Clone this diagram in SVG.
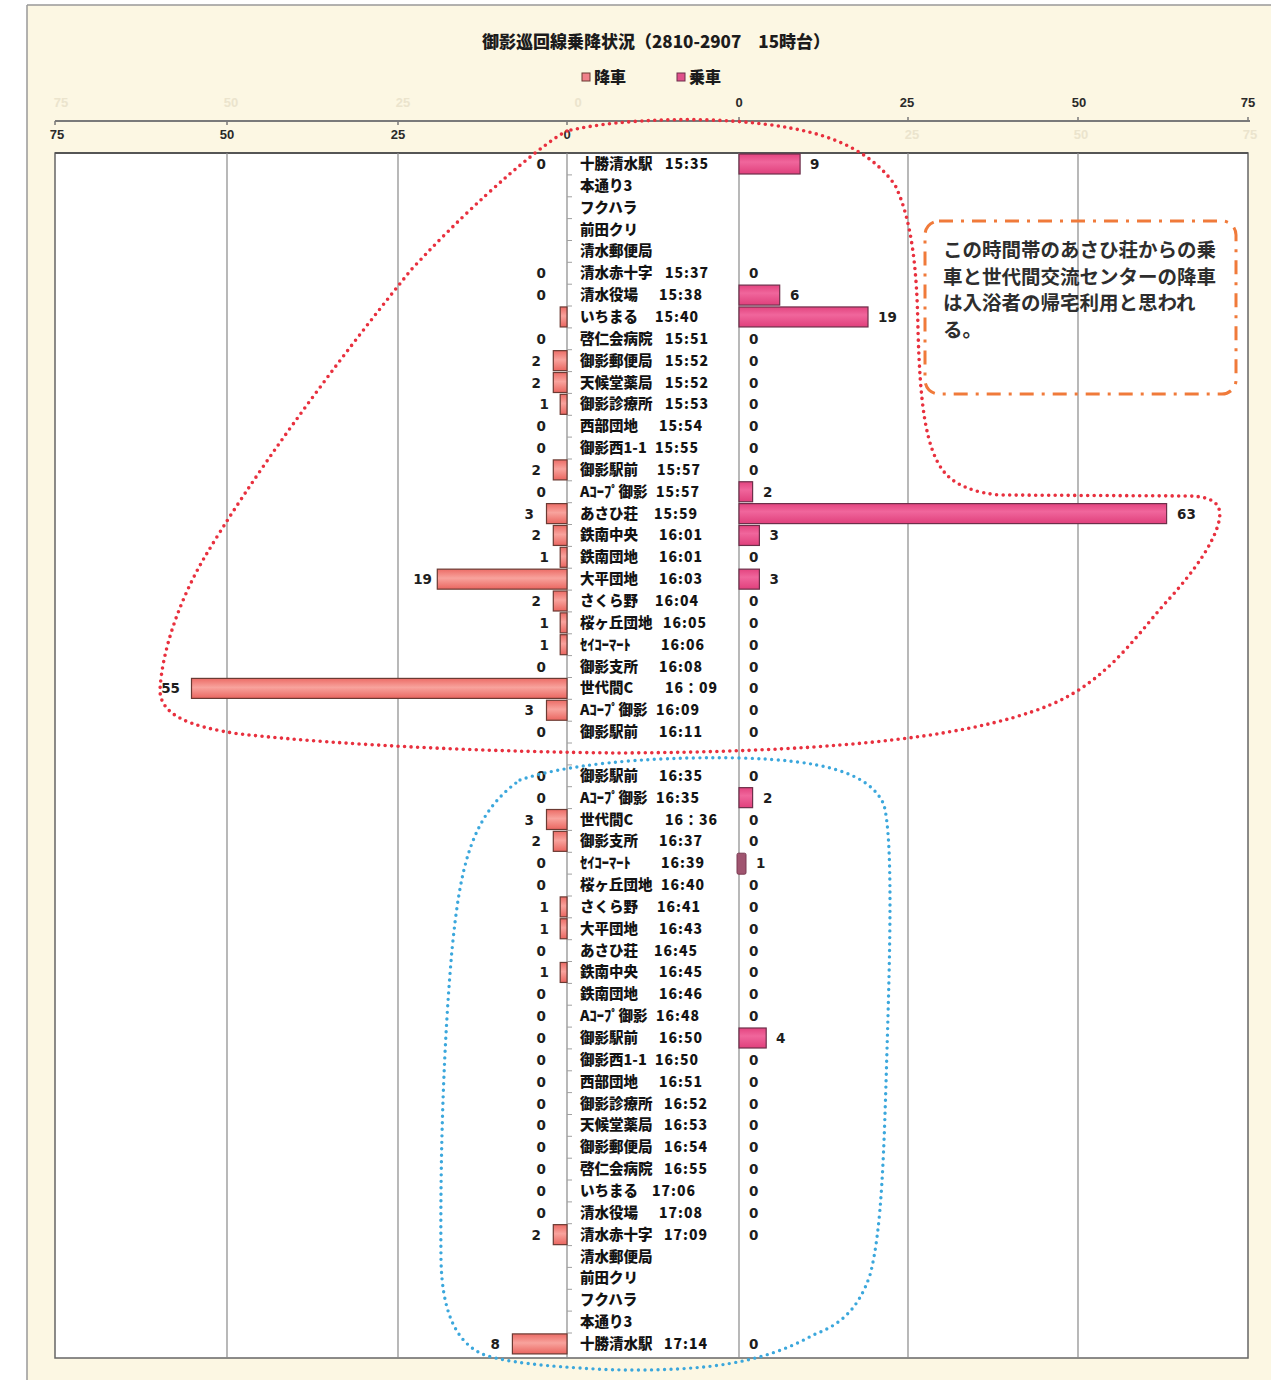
<svg xmlns="http://www.w3.org/2000/svg" width="1271" height="1380" viewBox="0 0 1271 1380">
<defs>
<style>
.nm{font-family:"Noto Sans CJK JP","Noto Sans CJK SC",sans-serif;font-weight:900;font-size:14.5px;fill:#141414}
.tm{font-family:"Noto Sans CJK JP","Noto Sans CJK SC",sans-serif;font-weight:900;font-size:14px;letter-spacing:1px;fill:#141414}
.vl{font-family:"DejaVu Sans",sans-serif;font-weight:700;font-size:13.5px;fill:#1e1e1e;text-anchor:end}
.vr{font-family:"DejaVu Sans",sans-serif;font-weight:700;font-size:13.5px;fill:#1e1e1e}
.ax{font-family:"Liberation Sans",sans-serif;font-weight:700;font-size:13px;fill:#2a2a2a;text-anchor:middle}
.ghost{font-family:"Liberation Sans",sans-serif;font-weight:700;font-size:13px;fill:#ebe4cd;text-anchor:middle}
.bl{fill:url(#gL);stroke:#6b3a33;stroke-width:1.2}
.br{fill:url(#gR);stroke:#6d2f4a;stroke-width:1.2}
.grid{stroke:#8a8a8a;stroke-width:1.2}
.note{font-family:"Noto Sans CJK JP","Noto Sans CJK SC",sans-serif;font-weight:700;font-size:19.5px;fill:#2e2e2e}
</style>
<linearGradient id="gL" x1="0" y1="0" x2="0" y2="1">
<stop offset="0" stop-color="#ec6c66"/><stop offset="0.45" stop-color="#f8a39d"/><stop offset="1" stop-color="#ea6660"/>
</linearGradient>
<linearGradient id="gR" x1="0" y1="0" x2="0" y2="1">
<stop offset="0" stop-color="#e3447f"/><stop offset="0.4" stop-color="#f0669c"/><stop offset="1" stop-color="#e0407c"/>
</linearGradient>
</defs>

<rect x="0" y="0" width="1271" height="1380" fill="#ffffff"/>
<rect x="27" y="5" width="1244" height="1375" fill="#fcf7e3"/>
<path d="M27,5H1271M27,5V1380" stroke="#999" stroke-width="1.5" fill="none"/>

<g id="header">
<text x="656" y="48" text-anchor="middle" style="font-family:'Noto Sans CJK JP','Noto Sans CJK SC',sans-serif;font-weight:900;font-size:17px;fill:#1c1c1c">御影巡回線乗降状況（2810-2907　15時台）</text>
<g id="legend">
<rect x="582" y="73" width="8" height="8" fill="#f0808a" stroke="#6b3a33" stroke-width="1"/>
<text x="594" y="83" style="font-family:'Noto Sans CJK JP',sans-serif;font-weight:900;font-size:16px;fill:#1c1c1c">降車</text>
<rect x="677" y="73" width="8" height="8" fill="#e0508a" stroke="#6d2f4a" stroke-width="1"/>
<text x="689" y="83" style="font-family:'Noto Sans CJK JP',sans-serif;font-weight:900;font-size:16px;fill:#1c1c1c">乗車</text>
</g>
<g id="axes">
<text class="ghost" x="61" y="107">75</text><text class="ghost" x="231" y="107">50</text><text class="ghost" x="403" y="107">25</text><text class="ghost" x="578" y="107">0</text>
<text class="ghost" x="912" y="139">25</text><text class="ghost" x="1081" y="139">50</text><text class="ghost" x="1250" y="139">75</text>
<text class="ax" x="739" y="107">0</text><text class="ax" x="907" y="107">25</text><text class="ax" x="1079" y="107">50</text><text class="ax" x="1248" y="107">75</text>
<text class="ax" x="57" y="139">75</text><text class="ax" x="227" y="139">50</text><text class="ax" x="398" y="139">25</text><text class="ax" x="567" y="139">0</text>
<path d="M55,121H1250" stroke="#7a7a7a" stroke-width="2"/>
<path d="M55,121v4M227,121v4M398,121v4M567,121v4M739,121v-4M908,121v-4M1078,121v-4M1248,121v-4" stroke="#7a7a7a" stroke-width="1.5"/>
</g>
</g>

<g id="plot">
<rect x="55" y="153" width="1193" height="1205" fill="#ffffff" stroke="#666" stroke-width="1.5"/>
<path d="M55,153H1248" stroke="#555" stroke-width="2"/>
<path class="grid" d="M227,153V1358M398,153V1358M567,153V1358M739,153V1358M908,153V1358M1078,153V1358"/>
<path stroke="#a0a0a0" stroke-width="1" d="M567,174.9h5M567,196.8h5M567,218.6h5M567,240.5h5M567,262.3h5M567,284.2h5M567,306h5M567,327.9h5M567,349.7h5M567,371.6h5M567,393.4h5M567,415.3h5M567,437.1h5M567,459h5M567,480.8h5M567,502.7h5M567,524.5h5M567,546.4h5M567,568.2h5M567,590.1h5M567,611.9h5M567,633.8h5M567,655.6h5M567,677.5h5M567,699.3h5M567,721.2h5M567,743h5M567,764.9h5M567,786.7h5M567,808.6h5M567,830.4h5M567,852.3h5M567,874.1h5M567,896h5M567,917.8h5M567,939.7h5M567,961.5h5M567,983.4h5M567,1005.2h5M567,1027.1h5M567,1048.9h5M567,1070.8h5M567,1092.6h5M567,1114.5h5M567,1136.3h5M567,1158.2h5M567,1180h5M567,1201.9h5M567,1223.7h5M567,1245.6h5M567,1267.4h5M567,1289.3h5M567,1311.1h5M567,1333h5"/>
</g>

<g id="rows">
<g id="r1" transform="translate(0,164)"><text class="vl" x="546" y="5">0</text><text class="nm" x="580" y="5">十勝清水駅</text><text class="tm" x="665" y="5">15:35</text><rect class="br" x="739" y="-10" width="61.1" height="20"/><text class="vr" x="810" y="5">9</text></g>
<g id="r2" transform="translate(0,185.85)"><text class="nm" x="580" y="5">本通り3</text></g>
<g id="r3" transform="translate(0,207.7)"><text class="nm" x="580" y="5">フクハラ</text></g>
<g id="r4" transform="translate(0,229.55)"><text class="nm" x="580" y="5">前田クリ</text></g>
<g id="r5" transform="translate(0,251.4)"><text class="nm" x="580" y="5">清水郵便局</text></g>
<g id="r6" transform="translate(0,273.25)"><text class="vl" x="546" y="5">0</text><text class="nm" x="580" y="5">清水赤十字</text><text class="tm" x="665" y="5">15:37</text><text class="vr" x="749" y="5">0</text></g>
<g id="r7" transform="translate(0,295.1)"><text class="vl" x="546" y="5">0</text><text class="nm" x="580" y="5">清水役場</text><text class="tm" x="659" y="5">15:38</text><rect class="br" x="739" y="-10" width="40.7" height="20"/><text class="vr" x="790" y="5">6</text></g>
<g id="r8" transform="translate(0,316.95)"><rect class="bl" x="560.2" y="-10" width="6.8" height="20"/><text class="nm" x="580" y="5">いちまる</text><text class="tm" x="655" y="5">15:40</text><rect class="br" x="739" y="-10" width="129" height="20"/><text class="vr" x="878" y="5">19</text></g>
<g id="r9" transform="translate(0,338.8)"><text class="vl" x="546" y="5">0</text><text class="nm" x="580" y="5">啓仁会病院</text><text class="tm" x="665" y="5">15:51</text><text class="vr" x="749" y="5">0</text></g>
<g id="r10" transform="translate(0,360.65)"><rect class="bl" x="553.3" y="-10" width="13.7" height="20"/><text class="vl" x="541" y="5">2</text><text class="nm" x="580" y="5">御影郵便局</text><text class="tm" x="665" y="5">15:52</text><text class="vr" x="749" y="5">0</text></g>
<g id="r11" transform="translate(0,382.5)"><rect class="bl" x="553.3" y="-10" width="13.7" height="20"/><text class="vl" x="541" y="5">2</text><text class="nm" x="580" y="5">天候堂薬局</text><text class="tm" x="665" y="5">15:52</text><text class="vr" x="749" y="5">0</text></g>
<g id="r12" transform="translate(0,404.35)"><rect class="bl" x="560.2" y="-10" width="6.8" height="20"/><text class="vl" x="549" y="5">1</text><text class="nm" x="580" y="5">御影診療所</text><text class="tm" x="665" y="5">15:53</text><text class="vr" x="749" y="5">0</text></g>
<g id="r13" transform="translate(0,426.2)"><text class="vl" x="546" y="5">0</text><text class="nm" x="580" y="5">西部団地</text><text class="tm" x="659" y="5">15:54</text><text class="vr" x="749" y="5">0</text></g>
<g id="r14" transform="translate(0,448.05)"><text class="vl" x="546" y="5">0</text><text class="nm" x="580" y="5">御影西1-1</text><text class="tm" x="655" y="5">15:55</text><text class="vr" x="749" y="5">0</text></g>
<g id="r15" transform="translate(0,469.9)"><rect class="bl" x="553.3" y="-10" width="13.7" height="20"/><text class="vl" x="541" y="5">2</text><text class="nm" x="580" y="5">御影駅前</text><text class="tm" x="657" y="5">15:57</text><text class="vr" x="749" y="5">0</text></g>
<g id="r16" transform="translate(0,491.75)"><text class="vl" x="546" y="5">0</text><text class="nm" x="580" y="5">Aｺｰﾌﾟ御影</text><text class="tm" x="656" y="5">15:57</text><rect class="br" x="739" y="-10" width="13.6" height="20"/><text class="vr" x="763" y="5">2</text></g>
<g id="r17" transform="translate(0,513.6)"><rect class="bl" x="546.5" y="-10" width="20.5" height="20"/><text class="vl" x="534" y="5">3</text><text class="nm" x="580" y="5">あさひ荘</text><text class="tm" x="654" y="5">15:59</text><rect class="br" x="739" y="-10" width="427.6" height="20"/><text class="vr" x="1177" y="5">63</text></g>
<g id="r18" transform="translate(0,535.45)"><rect class="bl" x="553.3" y="-10" width="13.7" height="20"/><text class="vl" x="541" y="5">2</text><text class="nm" x="580" y="5">鉄南中央</text><text class="tm" x="659" y="5">16:01</text><rect class="br" x="739" y="-10" width="20.4" height="20"/><text class="vr" x="769.5" y="5">3</text></g>
<g id="r19" transform="translate(0,557.3)"><rect class="bl" x="560.2" y="-10" width="6.8" height="20"/><text class="vl" x="549" y="5">1</text><text class="nm" x="580" y="5">鉄南団地</text><text class="tm" x="659" y="5">16:01</text><text class="vr" x="749" y="5">0</text></g>
<g id="r20" transform="translate(0,579.15)"><rect class="bl" x="437.3" y="-10" width="129.7" height="20"/><text class="vl" x="432" y="5">19</text><text class="nm" x="580" y="5">大平団地</text><text class="tm" x="659" y="5">16:03</text><rect class="br" x="739" y="-10" width="20.4" height="20"/><text class="vr" x="769.5" y="5">3</text></g>
<g id="r21" transform="translate(0,601)"><rect class="bl" x="553.3" y="-10" width="13.7" height="20"/><text class="vl" x="541" y="5">2</text><text class="nm" x="580" y="5">さくら野</text><text class="tm" x="655" y="5">16:04</text><text class="vr" x="749" y="5">0</text></g>
<g id="r22" transform="translate(0,622.85)"><rect class="bl" x="560.2" y="-10" width="6.8" height="20"/><text class="vl" x="549" y="5">1</text><text class="nm" x="580" y="5">桜ヶ丘団地</text><text class="tm" x="663" y="5">16:05</text><text class="vr" x="749" y="5">0</text></g>
<g id="r23" transform="translate(0,644.7)"><rect class="bl" x="560.2" y="-10" width="6.8" height="20"/><text class="vl" x="549" y="5">1</text><text class="nm" x="580" y="5">ｾｲｺｰﾏｰﾄ</text><text class="tm" x="661" y="5">16:06</text><text class="vr" x="749" y="5">0</text></g>
<g id="r24" transform="translate(0,666.55)"><text class="vl" x="546" y="5">0</text><text class="nm" x="580" y="5">御影支所</text><text class="tm" x="659" y="5">16:08</text><text class="vr" x="749" y="5">0</text></g>
<g id="r25" transform="translate(0,688.4)"><rect class="bl" x="191.5" y="-10" width="375.5" height="20"/><text class="vl" x="180" y="5">55</text><text class="nm" x="580" y="5">世代間C</text><text class="tm" x="665" y="5">16：09</text><text class="vr" x="749" y="5">0</text></g>
<g id="r26" transform="translate(0,710.25)"><rect class="bl" x="546.5" y="-10" width="20.5" height="20"/><text class="vl" x="534" y="5">3</text><text class="nm" x="580" y="5">Aｺｰﾌﾟ御影</text><text class="tm" x="656" y="5">16:09</text><text class="vr" x="749" y="5">0</text></g>
<g id="r27" transform="translate(0,732.1)"><text class="vl" x="546" y="5">0</text><text class="nm" x="580" y="5">御影駅前</text><text class="tm" x="659" y="5">16:11</text><text class="vr" x="749" y="5">0</text></g>
<g id="r29" transform="translate(0,775.8)"><text class="vl" x="546" y="5">0</text><text class="nm" x="580" y="5">御影駅前</text><text class="tm" x="659" y="5">16:35</text><text class="vr" x="749" y="5">0</text></g>
<g id="r30" transform="translate(0,797.65)"><text class="vl" x="546" y="5">0</text><text class="nm" x="580" y="5">Aｺｰﾌﾟ御影</text><text class="tm" x="656" y="5">16:35</text><rect class="br" x="739" y="-10" width="13.6" height="20"/><text class="vr" x="763" y="5">2</text></g>
<g id="r31" transform="translate(0,819.5)"><rect class="bl" x="546.5" y="-10" width="20.5" height="20"/><text class="vl" x="534" y="5">3</text><text class="nm" x="580" y="5">世代間C</text><text class="tm" x="665" y="5">16：36</text><text class="vr" x="749" y="5">0</text></g>
<g id="r32" transform="translate(0,841.35)"><rect class="bl" x="553.3" y="-10" width="13.7" height="20"/><text class="vl" x="541" y="5">2</text><text class="nm" x="580" y="5">御影支所</text><text class="tm" x="659" y="5">16:37</text><text class="vr" x="749" y="5">0</text></g>
<g id="r33" transform="translate(0,863.2)"><text class="vl" x="546" y="5">0</text><text class="nm" x="580" y="5">ｾｲｺｰﾏｰﾄ</text><text class="tm" x="661" y="5">16:39</text><rect x="737" y="-10" width="9" height="21" rx="1.5" fill="#a05570" stroke="#7a3a52" stroke-width="1"/><text class="vr" x="756" y="5">1</text></g>
<g id="r34" transform="translate(0,885.05)"><text class="vl" x="546" y="5">0</text><text class="nm" x="580" y="5">桜ヶ丘団地</text><text class="tm" x="661" y="5">16:40</text><text class="vr" x="749" y="5">0</text></g>
<g id="r35" transform="translate(0,906.9)"><rect class="bl" x="560.2" y="-10" width="6.8" height="20"/><text class="vl" x="549" y="5">1</text><text class="nm" x="580" y="5">さくら野</text><text class="tm" x="657" y="5">16:41</text><text class="vr" x="749" y="5">0</text></g>
<g id="r36" transform="translate(0,928.75)"><rect class="bl" x="560.2" y="-10" width="6.8" height="20"/><text class="vl" x="549" y="5">1</text><text class="nm" x="580" y="5">大平団地</text><text class="tm" x="659" y="5">16:43</text><text class="vr" x="749" y="5">0</text></g>
<g id="r37" transform="translate(0,950.6)"><text class="vl" x="546" y="5">0</text><text class="nm" x="580" y="5">あさひ荘</text><text class="tm" x="654" y="5">16:45</text><text class="vr" x="749" y="5">0</text></g>
<g id="r38" transform="translate(0,972.45)"><rect class="bl" x="560.2" y="-10" width="6.8" height="20"/><text class="vl" x="549" y="5">1</text><text class="nm" x="580" y="5">鉄南中央</text><text class="tm" x="659" y="5">16:45</text><text class="vr" x="749" y="5">0</text></g>
<g id="r39" transform="translate(0,994.3)"><text class="vl" x="546" y="5">0</text><text class="nm" x="580" y="5">鉄南団地</text><text class="tm" x="659" y="5">16:46</text><text class="vr" x="749" y="5">0</text></g>
<g id="r40" transform="translate(0,1016.15)"><text class="vl" x="546" y="5">0</text><text class="nm" x="580" y="5">Aｺｰﾌﾟ御影</text><text class="tm" x="656" y="5">16:48</text><text class="vr" x="749" y="5">0</text></g>
<g id="r41" transform="translate(0,1038)"><text class="vl" x="546" y="5">0</text><text class="nm" x="580" y="5">御影駅前</text><text class="tm" x="659" y="5">16:50</text><rect class="br" x="739" y="-10" width="27.2" height="20"/><text class="vr" x="776" y="5">4</text></g>
<g id="r42" transform="translate(0,1059.85)"><text class="vl" x="546" y="5">0</text><text class="nm" x="580" y="5">御影西1-1</text><text class="tm" x="655" y="5">16:50</text><text class="vr" x="749" y="5">0</text></g>
<g id="r43" transform="translate(0,1081.7)"><text class="vl" x="546" y="5">0</text><text class="nm" x="580" y="5">西部団地</text><text class="tm" x="659" y="5">16:51</text><text class="vr" x="749" y="5">0</text></g>
<g id="r44" transform="translate(0,1103.55)"><text class="vl" x="546" y="5">0</text><text class="nm" x="580" y="5">御影診療所</text><text class="tm" x="664" y="5">16:52</text><text class="vr" x="749" y="5">0</text></g>
<g id="r45" transform="translate(0,1125.4)"><text class="vl" x="546" y="5">0</text><text class="nm" x="580" y="5">天候堂薬局</text><text class="tm" x="664" y="5">16:53</text><text class="vr" x="749" y="5">0</text></g>
<g id="r46" transform="translate(0,1147.25)"><text class="vl" x="546" y="5">0</text><text class="nm" x="580" y="5">御影郵便局</text><text class="tm" x="664" y="5">16:54</text><text class="vr" x="749" y="5">0</text></g>
<g id="r47" transform="translate(0,1169.1)"><text class="vl" x="546" y="5">0</text><text class="nm" x="580" y="5">啓仁会病院</text><text class="tm" x="664" y="5">16:55</text><text class="vr" x="749" y="5">0</text></g>
<g id="r48" transform="translate(0,1190.95)"><text class="vl" x="546" y="5">0</text><text class="nm" x="580" y="5">いちまる</text><text class="tm" x="652" y="5">17:06</text><text class="vr" x="749" y="5">0</text></g>
<g id="r49" transform="translate(0,1212.8)"><text class="vl" x="546" y="5">0</text><text class="nm" x="580" y="5">清水役場</text><text class="tm" x="659" y="5">17:08</text><text class="vr" x="749" y="5">0</text></g>
<g id="r50" transform="translate(0,1234.65)"><rect class="bl" x="553.3" y="-10" width="13.7" height="20"/><text class="vl" x="541" y="5">2</text><text class="nm" x="580" y="5">清水赤十字</text><text class="tm" x="664" y="5">17:09</text><text class="vr" x="749" y="5">0</text></g>
<g id="r51" transform="translate(0,1256.5)"><text class="nm" x="580" y="5">清水郵便局</text></g>
<g id="r52" transform="translate(0,1278.35)"><text class="nm" x="580" y="5">前田クリ</text></g>
<g id="r53" transform="translate(0,1300.2)"><text class="nm" x="580" y="5">フクハラ</text></g>
<g id="r54" transform="translate(0,1322.05)"><text class="nm" x="580" y="5">本通り3</text></g>
<g id="r55" transform="translate(0,1343.9)"><rect class="bl" x="512.4" y="-10" width="54.6" height="20"/><text class="vl" x="500" y="5">8</text><text class="nm" x="580" y="5">十勝清水駅</text><text class="tm" x="664" y="5">17:14</text><text class="vr" x="749" y="5">0</text></g>
</g>

<g id="connectors">
<path id="red-loop" fill="none" stroke="#e8303e" stroke-width="3.6" stroke-linecap="round" stroke-dasharray="0 6.5" d="M567,131 C548,140 480,195 411,270 C330,370 250,480 203,560 C180,600 162,650 160,690 C160,715 190,727 240,734 C350,746 500,752 620,753 C800,752 960,742 1050,705 C1110,680 1140,630 1170,598 C1195,570 1212,545 1218,525 C1224,505 1215,497 1190,496 L1000,495 C975,493 955,485 945,473 C925,450 920,400 918,330 C917,270 912,220 895,185 C870,150 830,135 790,128 C720,115 620,118 567,131 Z"/>
<path id="blue-loop" fill="none" stroke="#3ba7dc" stroke-width="3.4" stroke-linecap="round" stroke-dasharray="0 6.5" d="M520,780 C560,766 640,756 740,758 C820,760 870,772 884,805 C893,840 890,950 887,1050 C884,1150 882,1230 870,1275 C858,1310 840,1325 813,1335 C790,1348 760,1360 713,1366 C670,1371 620,1371 580,1368 C530,1365 495,1360 480,1353 C455,1340 442,1310 441,1260 C440,1150 444,1040 452,950 C460,870 470,815 520,780 Z"/>
</g>

<g id="note">
<rect x="925" y="221" width="311" height="173" rx="14" fill="none" stroke="#f07a3a" stroke-width="3" stroke-dasharray="14 8 3 8"/>
<text class="note" x="943" y="257">この時間帯のあさひ荘からの乗</text>
<text class="note" x="943" y="283.5">車と世代間交流センターの降車</text>
<text class="note" x="943" y="310">は入浴者の帰宅利用と思われ</text>
<text class="note" x="943" y="336.5">る。</text>
</g>
</svg>
